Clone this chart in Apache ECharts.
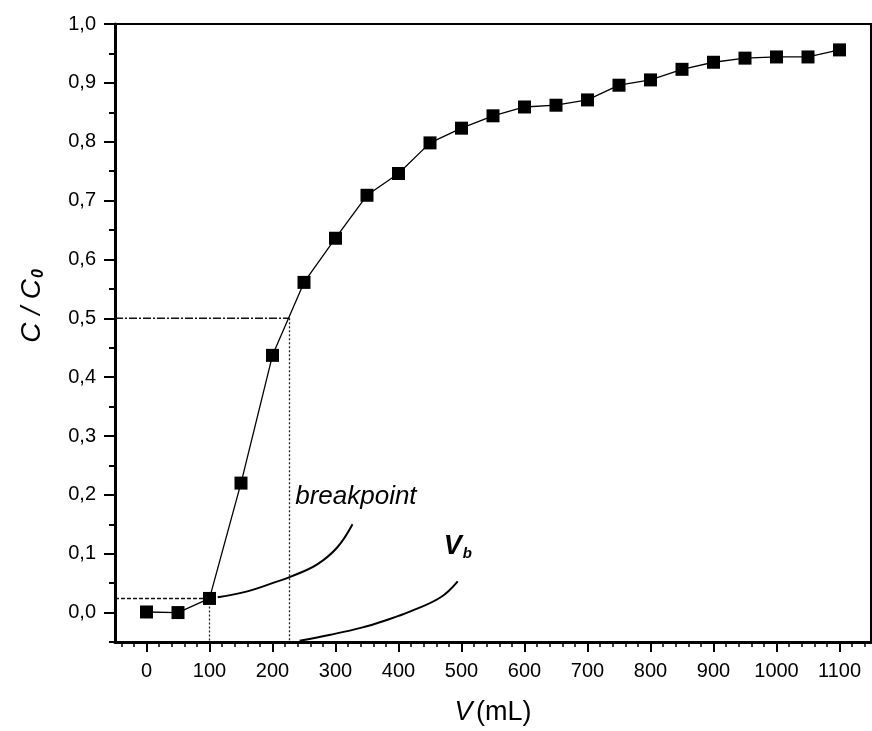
<!DOCTYPE html>
<html>
<head>
<meta charset="utf-8">
<script src="https://cdn.jsdelivr.net/npm/echarts@6/dist/echarts.min.js"></script>
<style>
html,body{margin:0;padding:0;background:#fff;}
#chart{width:872px;height:731px;}
</style>
</head>
<body>
<div id="chart"></div>
<script>
// ---- data ----
const volumes = [0, 50, 100, 150, 200, 250, 300, 350, 400, 450, 500, 550, 600, 650, 700, 750, 800, 850, 900, 950, 1000, 1050, 1100];
const ratios = [0.001, 0.000, 0.024, 0.220, 0.437, 0.561, 0.636, 0.709, 0.746, 0.798, 0.823, 0.844, 0.859, 0.862, 0.871, 0.896, 0.905, 0.923, 0.935, 0.942, 0.944, 0.944, 0.956];

const xMajorTicks = [0, 100, 200, 300, 400, 500, 600, 700, 800, 900, 1000, 1100];
const xMinorTicks = [-40, -20, 20, 40, 60, 80, 120, 140, 160, 180, 220, 240, 260, 280, 320, 340, 360, 380, 420, 440, 460, 480, 520, 540, 560, 580, 620, 640, 660, 680, 720, 740, 760, 780, 820, 840, 860, 880, 920, 940, 960, 980, 1020, 1040, 1060, 1080, 1120, 1140];
const yMajorTicks = [0.0, 0.1, 0.2, 0.3, 0.4, 0.5, 0.6, 0.7, 0.8, 0.9, 1.0];
const yMinorTicks = [-0.05, 0.05, 0.15, 0.25, 0.35, 0.45, 0.55, 0.65, 0.75, 0.85, 0.95];

// guide lines (half breakthrough and breakpoint)
const halfLevel = 0.5;
const halfVolume = 227;
const breakLevel = 0.024;
const breakVolume = 100;

// annotation arrow curves
const breakpointArrowX = [113, 160, 208, 229, 271, 303, 327];
const breakpointArrowY = [0.026, 0.036, 0.053, 0.061, 0.082, 0.111, 0.150];
const vbArrowX = [243, 290, 340, 380, 419, 467, 494];
const vbArrowY = [-0.048, -0.038, -0.026, -0.013, 0.002, 0.026, 0.053];

const breakpointLabelPos = [236, 0.197];
const vbLabelPos = [494, 0.112];

const X_MIN = -50, X_MAX = 1150, Y_MIN = -0.05, Y_MAX = 1.0;
// ---------------------------------------

const font = 'Liberation Sans, Arial, Helvetica, sans-serif';
const pairs = (xs, ys) => xs.map((x, i) => [x, ys[i]]);

const chart = echarts.init(document.getElementById('chart'), null, {renderer: 'canvas'});

const commonX = {
  type: 'value', min: X_MIN, max: X_MAX, position: 'bottom',
  splitLine: {show: false}
};
const commonY = {
  type: 'value', min: Y_MIN, max: Y_MAX, position: 'left',
  splitLine: {show: false}
};

const option = {
  animation: false,
  backgroundColor: '#fff',
  grid: {
    left: 115, right: 1, top: 24, bottom: 89,
    show: true, borderColor: '#000', borderWidth: 2, backgroundColor: 'transparent'
  },
  xAxis: [
    Object.assign({}, commonX, {
      axisLine: {show: true, onZero: false, lineStyle: {color: '#000', width: 3}},
      axisTick: {show: true, inside: false, length: 10, customValues: xMajorTicks, lineStyle: {color: '#000', width: 2}},
      axisLabel: {
        show: true, customValues: xMajorTicks, margin: 19,
        color: '#000', fontSize: 20, fontFamily: font,
        formatter: v => String(v)
      },
      name: '{i|V} {n|(mL)}',
      nameLocation: 'middle', nameGap: 57,
      nameTextStyle: {
        rich: {
          i: {fontSize: 27, fontStyle: 'italic', fontFamily: font, color: '#000'},
          n: {fontSize: 27, fontFamily: font, color: '#000'}
        }
      }
    }),
    Object.assign({}, commonX, {
      axisLine: {show: false, onZero: false},
      axisTick: {show: true, inside: false, length: 5, customValues: xMinorTicks, lineStyle: {color: '#000', width: 1.5}},
      axisLabel: {show: false}
    })
  ],
  yAxis: [
    Object.assign({}, commonY, {
      axisLine: {show: true, onZero: false, lineStyle: {color: '#000', width: 3}},
      axisTick: {show: true, inside: false, length: 11, customValues: yMajorTicks, lineStyle: {color: '#000', width: 2}},
      axisLabel: {
        show: true, customValues: yMajorTicks, margin: 19,
        color: '#000', fontSize: 20, fontFamily: font,
        formatter: v => v.toFixed(1).replace('.', ',')
      },
      name: '{c|C / C}{s|0}',
      nameLocation: 'middle', nameRotate: 90, nameGap: 68,
      nameTextStyle: {
        padding: [0, 0, 0, 54],
        rich: {
          c: {fontSize: 28, fontStyle: 'italic', fontFamily: font, color: '#000', lineHeight: 30},
          s: {fontSize: 16, fontStyle: 'italic', fontWeight: 'bold', fontFamily: font, color: '#000', verticalAlign: 'bottom', lineHeight: 30, padding: [14, 0, 0, 1]}
        }
      }
    }),
    Object.assign({}, commonY, {
      axisLine: {show: false, onZero: false},
      axisTick: {show: true, inside: false, length: 6, customValues: yMinorTicks, lineStyle: {color: '#000', width: 2}},
      axisLabel: {show: false}
    })
  ],
  series: [
    {
      name: 'half-h', type: 'line', silent: true, symbol: 'none',
      data: [[X_MIN, halfLevel], [halfVolume, halfLevel]],
      lineStyle: {color: '#111', width: 1.6, type: [8, 2, 2, 2]}
    },
    {
      name: 'half-v', type: 'line', silent: true, symbol: 'none',
      data: [[halfVolume, halfLevel], [halfVolume, Y_MIN]],
      lineStyle: {color: '#222', width: 1.3, type: [2, 2]}
    },
    {
      name: 'break-h', type: 'line', silent: true, symbol: 'none',
      data: [[X_MIN, breakLevel], [breakVolume, breakLevel]],
      lineStyle: {color: '#111', width: 1.4, type: [4, 2]}
    },
    {
      name: 'break-v', type: 'line', silent: true, symbol: 'none',
      data: [[breakVolume, breakLevel], [breakVolume, Y_MIN]],
      lineStyle: {color: '#222', width: 1.3, type: [2, 2]}
    },
    {
      name: 'breakpoint-arrow', type: 'line', silent: true, symbol: 'none', smooth: 0.4,
      data: pairs(breakpointArrowX, breakpointArrowY),
      lineStyle: {color: '#000', width: 2}
    },
    {
      name: 'vb-arrow', type: 'line', silent: true, symbol: 'none', smooth: 0.4,
      data: pairs(vbArrowX, vbArrowY),
      lineStyle: {color: '#000', width: 2}
    },
    {
      name: 'C/C0', type: 'line', symbol: 'rect', symbolSize: 13,
      data: pairs(volumes, ratios),
      itemStyle: {color: '#000'},
      lineStyle: {color: '#000', width: 1.3},
      z: 5
    }
  ]
};
chart.setOption(option);

const bp = chart.convertToPixel({gridIndex: 0}, breakpointLabelPos);
const vb = chart.convertToPixel({gridIndex: 0}, vbLabelPos);
chart.setOption({
  graphic: [
    {
      type: 'text', x: bp[0], y: bp[1],
      style: {
        text: 'breakpoint', fontSize: 26, fontStyle: 'italic', fontFamily: font,
        fill: '#000', textVerticalAlign: 'middle', textAlign: 'left'
      }
    },
    {
      type: 'text', x: vb[0], y: vb[1],
      style: {
        text: '{v|V}{b|b}', textVerticalAlign: 'middle', textAlign: 'center',
        rich: {
          v: {fontSize: 27, fontStyle: 'italic', fontWeight: 'bold', fontFamily: font, fill: '#000', lineHeight: 30},
          b: {fontSize: 15, fontStyle: 'italic', fontWeight: 'bold', fontFamily: font, fill: '#000', verticalAlign: 'bottom', lineHeight: 30, padding: [16, 0, 0, 1]}
        }
      }
    }
  ]
});
</script>
</body>
</html>
